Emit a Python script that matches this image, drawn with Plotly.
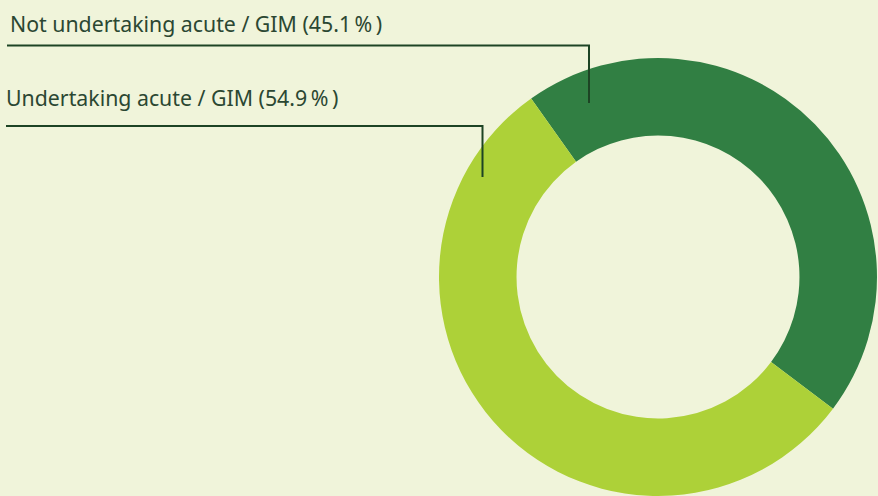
import plotly.graph_objects as go

categories = ["Not undertaking acute / GIM", "Undertaking acute / GIM"]
values = [45.1, 54.9]
colors = ["#317f43", "#add138"]

W, H = 878, 496
BG = "#f0f4da"
LINE = "#1d4424"
TEXT = "#2b4732"

fig = go.Figure(go.Pie(
    labels=categories,
    values=values,
    hole=0.646,
    sort=False,
    direction="clockwise",
    rotation=-35.4,
    marker=dict(colors=colors, line=dict(width=0)),
    textinfo="none",
    hoverinfo="label+percent",
    domain=dict(x=[438 / W, 1.0], y=[0.0, 1 - 58 / H]),
    showlegend=False,
))

def px(x):
    return x / W

def py(y):
    return 1 - y / H

# labels with leader lines
label_rows = [
    dict(tx=8, ty=23, ly=45.5, lx1=7, lx2=589, ly2=103),
    dict(tx=4, ty=97, ly=126, lx1=6, lx2=482.5, ly2=177),
]
shapes = []
annotations = []
for cat, v, r in zip(categories, values, label_rows):
    annotations.append(dict(
        x=px(r["tx"]), y=py(r["ty"]), xref="paper", yref="paper",
        xanchor="left", yanchor="middle", showarrow=False,
        text=f"{cat} ({v:.1f}\u2009%\u2009)",
        font=dict(family="Noto Sans", size=21.3, color=TEXT),
    ))
    shapes.append(dict(
        type="path", xref="paper", yref="paper",
        path=f"M {px(r['lx1'])},{py(r['ly'])} L {px(r['lx2'])},{py(r['ly'])} L {px(r['lx2'])},{py(r['ly2'])}",
        line=dict(color=LINE, width=2),
    ))

fig.update_layout(
    width=W, height=H,
    margin=dict(l=0, r=0, t=0, b=0),
    paper_bgcolor=BG, plot_bgcolor=BG,
    shapes=shapes, annotations=annotations,
)

fig.write_html(
    "out.html",
    config={"displayModeBar": False},
    post_script="document.body.style.margin='0';document.body.style.background='" + BG + "';",
)
